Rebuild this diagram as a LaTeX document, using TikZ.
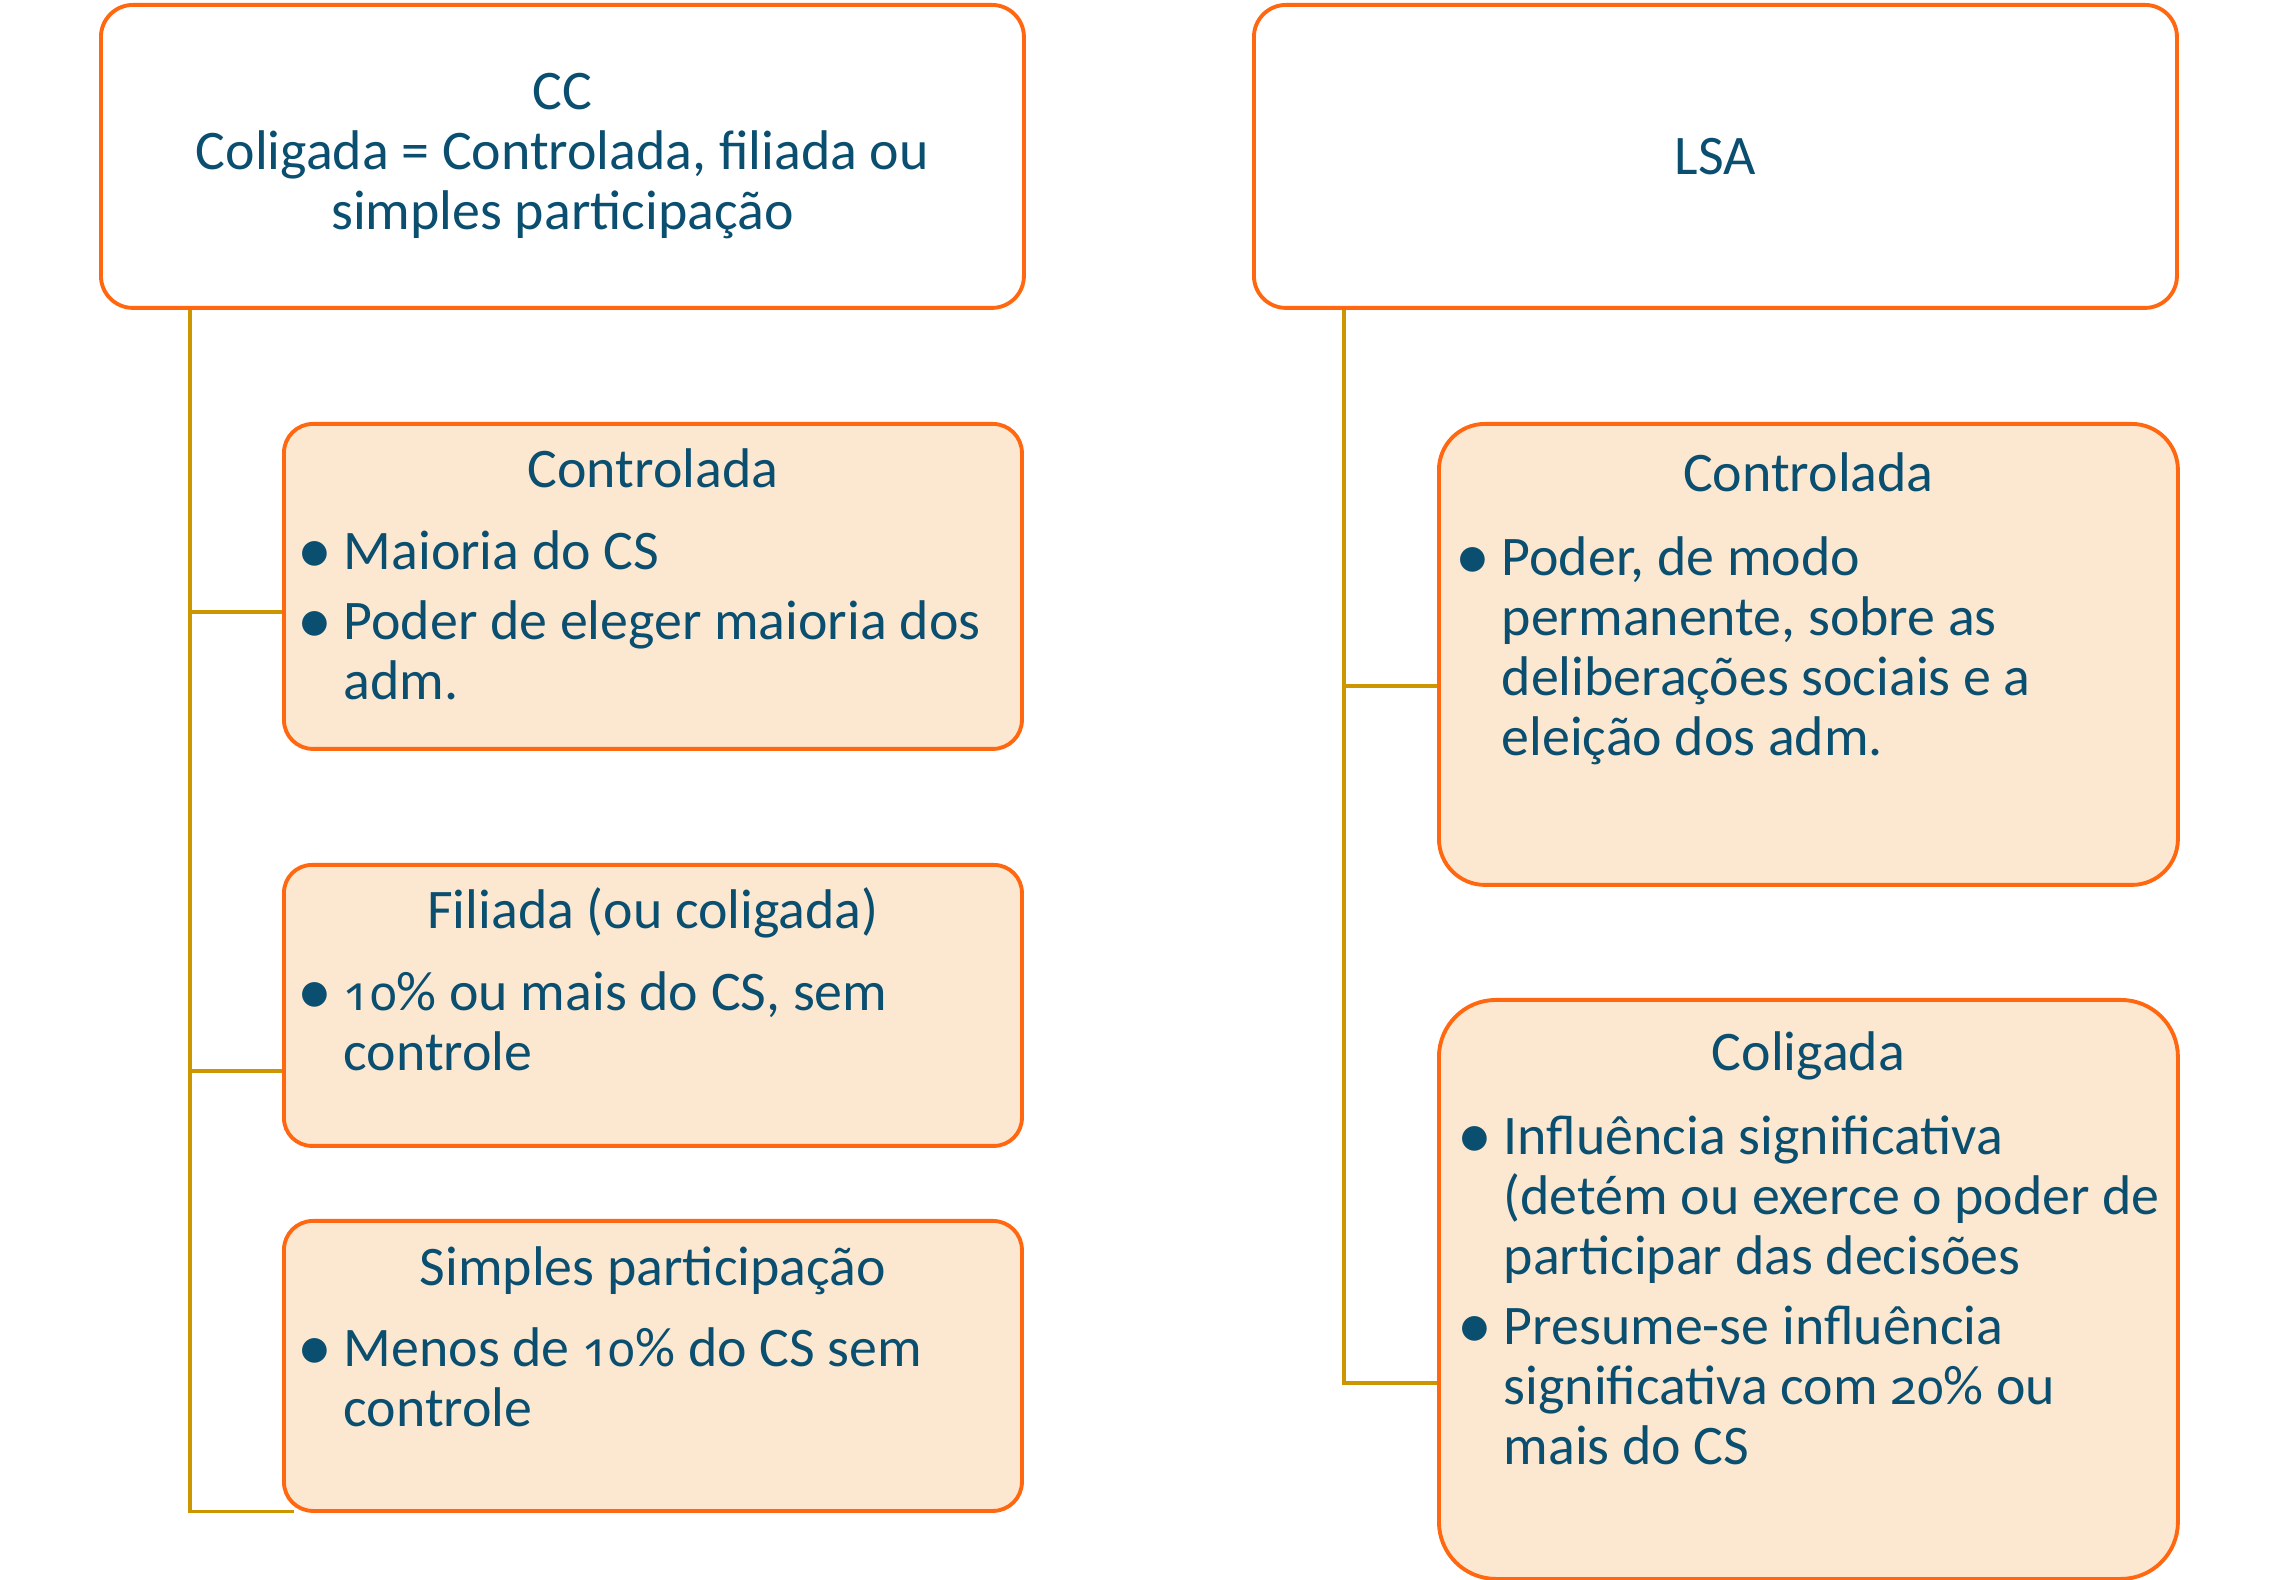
\documentclass[tikz,border=0pt]{standalone}
\usepackage{fontspec}
\setmainfont{Carlito}
\newfontfamily\osf{Noto Sans}[Numbers=OldStyle, Scale=0.87]
\usetikzlibrary{backgrounds}
\definecolor{boxline}{RGB}{255,104,16}
\definecolor{boxfill}{RGB}{252,232,208}
\definecolor{txt}{RGB}{10,78,112}
\definecolor{conline}{RGB}{204,150,0}
\tikzstyle{topbox} = [rectangle, rounded corners=0.32cm, minimum width=9.23cm, minimum height=3.03cm, anchor=north west, draw=boxline, line width=1.1pt, fill=white, text=txt, align=center]
\tikzstyle{subbox} = [rectangle, minimum width=7.38cm, anchor=north west, draw=boxline, line width=1.1pt, fill=boxfill]
\tikzstyle{title} = [anchor=base, text=txt, inner sep=0pt]
\tikzstyle{list} = [anchor=base west, text=txt, inner sep=0pt]
\tikzstyle{conn} = [draw=conline, line width=0.9pt]
\newcommand{\itm}[1]{\par\hangindent=0.44cm\hangafter=1\noindent\makebox[0.44cm][l]{\hspace{-0.02cm}\raisebox{-0.035cm}{\scalebox{1.25}{\textbullet}}}#1}
\newcommand{\blist}[1]{\begin{minipage}[t]{7cm}\setlength{\parskip}{0.1cm}#1\end{minipage}}

\begin{document}
\begin{tikzpicture}[font=\fontsize{15.9}{17.07}\selectfont]
        \useasboundingbox (0,0) rectangle (22.74,-15.80);
        % top boxes
        \node (cc) [topbox] at (0.99,-0.03) {CC\\Coligada = Controlada, filiada ou\\simples participação};
        \node (lsa) [topbox] at (12.52,-0.03) {LSA};
        % left column
        \node (ctl) [subbox, rounded corners=0.29cm, minimum height=3.25cm] at (2.82,-4.22) {};
        \node (ctlT) [title] at ([yshift=-0.66cm]ctl.north) {Controlada};
        \node (ctlL) [list] at ([shift={(0.17,-1.48)}]ctl.north west) {\blist{\itm{Maioria do CS}\itm{Poder de eleger maioria dos\\adm.}}};
        \node (fil) [subbox, rounded corners=0.28cm, minimum height=2.81cm] at (2.82,-8.63) {};
        \node (filT) [title] at ([yshift=-0.66cm]fil.north) {Filiada (ou coligada)};
        \node (filL) [list] at ([shift={(0.17,-1.48)}]fil.north west) {\blist{\itm{{\osf 10}\% ou mais do CS, sem\\controle}}};
        \node (simp) [subbox, rounded corners=0.29cm, minimum height=2.90cm] at (2.82,-12.19) {};
        \node (simpT) [title] at ([yshift=-0.66cm]simp.north) {Simples participação};
        \node (simpL) [list] at ([shift={(0.17,-1.48)}]simp.north west) {\blist{\itm{Menos de {\osf 10}\% do CS sem\\controle}}};
        % right column
        \node (rctl) [subbox, rounded corners=0.46cm, minimum height=4.61cm, minimum width=7.39cm] at (14.37,-4.22) {};
        \node (rctlT) [title] at ([yshift=-0.70cm]rctl.north) {Controlada};
        \node (rctlL) [list] at ([shift={(0.20,-1.54)}]rctl.north west) {\blist{\itm{Poder, de modo\\permanente, sobre as\\deliberações sociais e a\\eleição dos adm.}}};
        \node (col) [subbox, rounded corners=0.57cm, minimum height=5.79cm, minimum width=7.39cm] at (14.37,-9.98) {};
        \node (colT) [title] at ([yshift=-0.73cm]col.north) {Coligada};
        \node (colL) [list] at ([shift={(0.22,-1.57)}]col.north west) {\blist{\itm{Influência significativa\\(detém ou exerce o poder de\\participar das decisões}\itm{Presume-se influência\\significativa com {\osf 20}\% ou\\mais do CS}}};
        % connectors
        \coordinate (ccT) at ([xshift=0.91cm]cc.south west);
        \coordinate (lsaT) at ([xshift=0.92cm]lsa.south west);
        \begin{pgfonlayer}{background}
        \draw [conn] (ccT) |- ([shift={(0.1,-0.255)}]ctl.west);
        \draw [conn] (ccT) |- ([shift={(0.1,-0.655)}]fil.west);
        \draw [conn] (ccT) |- ([shift={(0.12,0.01)}]simp.south west);
        \draw [conn] (lsaT) |- ([shift={(0.1,-0.315)}]rctl.west);
        \draw [conn] (lsaT) |- ([shift={(0.1,-0.935)}]col.west);
        \end{pgfonlayer}
      \end{tikzpicture}
\end{document}
